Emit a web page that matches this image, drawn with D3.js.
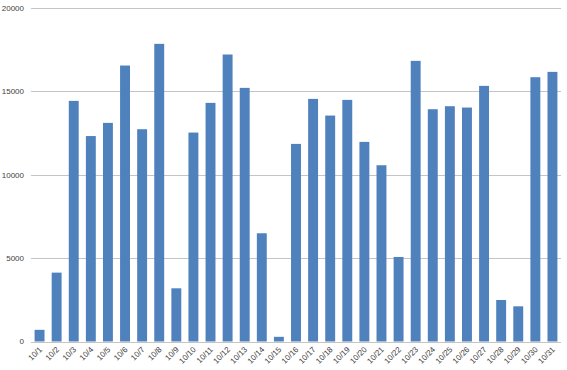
<!DOCTYPE html>
<html>
<head>
<meta charset="utf-8">
<script src="https://cdn.jsdelivr.net/npm/d3@7"></script>
<style>
  html, body { margin: 0; padding: 0; background: #fff; }
  svg { display: block; }
</style>
</head>
<body>
<svg id="chart" width="567" height="370"></svg>
<script>
const categories = ["10/1","10/2","10/3","10/4","10/5","10/6","10/7","10/8","10/9","10/10",
  "10/11","10/12","10/13","10/14","10/15","10/16","10/17","10/18","10/19","10/20",
  "10/21","10/22","10/23","10/24","10/25","10/26","10/27","10/28","10/29","10/30","10/31"];
const values = [700, 4130, 14430, 12320, 13110, 16550, 12730, 17850, 3190, 12530,
  14310, 17210, 15210, 6490, 280, 11850, 14550, 13550, 14490, 11970,
  10570, 5070, 16830, 13930, 14110, 14030, 15330, 2490, 2110, 15850, 16170];
const yTicks = [0, 5000, 10000, 15000, 20000];

(function () {
const svg = d3.select("#chart");
const mLeft = 31, mRight = 561, mTop = 8, mBottom = 341.5;

const x = d3.scaleBand().domain(categories).range([mLeft, mRight]).paddingInner(0.42).paddingOuter(0.21);
const y = d3.scaleLinear().domain([0, 20000]).range([mBottom, mTop]);

// gridlines
svg.append("g").selectAll("line").data(yTicks).join("line")
  .attr("x1", mLeft).attr("x2", mRight)
  .attr("y1", d => Math.round(y(d)) + 0.5).attr("y2", d => Math.round(y(d)) + 0.5)
  .attr("stroke", "#c4c4c4").attr("stroke-width", 1);

// y labels
svg.append("g").selectAll("text").data(yTicks).join("text")
  .attr("x", 24).attr("y", d => y(d)).attr("dy", "0.35em")
  .attr("text-anchor", "end")
  .attr("font-family", "Liberation Sans, Arial, sans-serif")
  .attr("font-size", 8).attr("fill", "#404040")
  .text(d => d);

// bars
svg.append("g").selectAll("rect").data(values).join("rect")
  .attr("x", (d, i) => x(categories[i]))
  .attr("width", x.bandwidth())
  .attr("y", d => y(d))
  .attr("height", d => y(0) - y(d))
  .attr("fill", "#4f81bd");

// x labels
svg.append("g").selectAll("text").data(categories).join("text")
  .attr("transform", d => `translate(${x(d) + x.bandwidth() / 2 + 3},${350}) rotate(-45)`)
  .attr("text-anchor", "end")
  .attr("font-family", "Liberation Sans, Arial, sans-serif")
  .attr("font-size", 8).attr("fill", "#404040")
  .text(d => d);
})();
</script>
</body>
</html>
